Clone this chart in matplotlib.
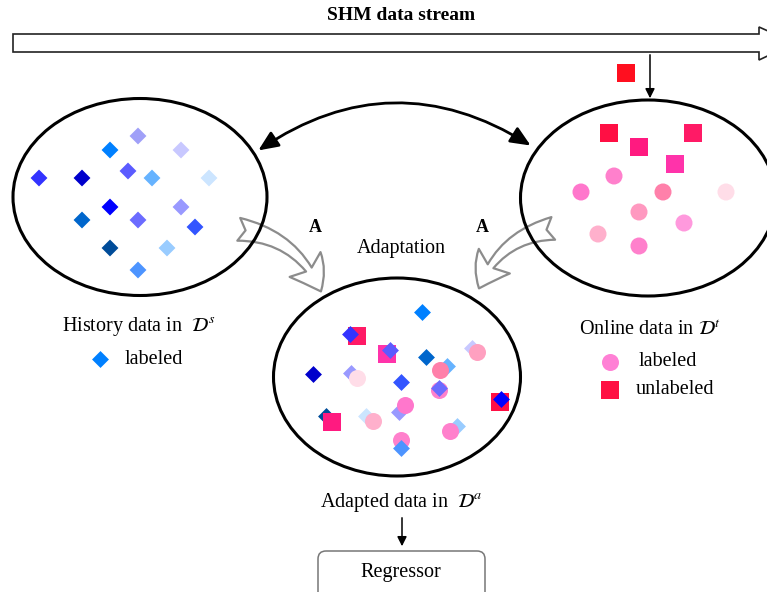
import matplotlib
matplotlib.use('Agg')
import matplotlib.pyplot as plt
from matplotlib.patches import Ellipse, FancyArrowPatch, FancyBboxPatch, Polygon

plt.rcParams['font.family'] = ['Liberation Serif', 'DejaVu Serif']
plt.rcParams['mathtext.fontset'] = 'stix'

# history data (diamonds) in D^s
hist_x = [138, 110, 181, 39, 82, 128, 152, 209, 110, 181, 82, 138, 195, 110, 167, 138]
hist_y = [136, 150, 150, 178, 178, 171, 178, 178, 207, 207, 220, 220, 227, 248, 248, 270]
hist_c = ['#a0a0f8', '#0080ff', '#c8c8ff', '#3333ff', '#0000cc', '#5b5bff', '#66b3ff', '#cce5ff',
          '#0000ff', '#9999ff', '#0066cc', '#6b6bff', '#3355ff', '#004c99', '#99ccff', '#4d94ff']

# online data in D^t
unl_x = [609, 693, 639, 675]
unl_y = [133, 133, 147, 164]
unl_c = ['#ff0f44', '#ff1a66', '#ff1a80', '#ff33aa']
lab_x = [614, 581, 663, 726, 639, 684, 598, 639]
lab_y = [176, 192, 192, 192, 212, 223, 234, 246]
lab_c = ['#ff80cc', '#ff77cc', '#ff80aa', '#ffdde8', '#ff99c0', '#ff99dd', '#ffb0cc', '#ff80cc']

# adapted data in D^a (drawing order)
mid_x = [422, 357, 350, 387, 390, 426, 472, 477, 447, 440, 313, 351, 357, 401,
         439, 439, 399, 405, 500, 501, 326, 332, 366, 373, 457, 450, 401, 401]
mid_y = [312, 336, 334, 354, 350, 357, 348, 352, 366, 370, 374, 373, 378, 382,
         390, 388, 412, 405, 402, 399, 416, 422, 416, 421, 426, 431, 440, 448]
mid_m = ['D', 's', 'D', 's', 'D', 'D', 'D', 'o', 'D', 'o', 'D', 'D', 'o', 'D',
         'o', 'D', 'D', 'o', 's', 'D', 'D', 's', 'D', 'o', 'D', 'o', 'o', 'D']
mid_c = ['#0080ff', '#ff1a66', '#3333ff', '#ff33aa', '#5b5bff', '#0066cc', '#c8c8ff', '#ffa0c0',
         '#66b3ff', '#ff80aa', '#0000cc', '#9999ff', '#ffdde8', '#3355ff', '#ff80cc', '#6b6bff',
         '#9999ff', '#ff77cc', '#ff0f44', '#0000ff', '#004c99', '#ff1a80', '#cce5ff', '#ffb0cc',
         '#99ccff', '#ff80cc', '#ff80cc', '#4d94ff']

sizes = {'D': 74, 's': 150, 'o': 150}

fig = plt.figure(figsize=(7.67, 5.92), dpi=100)
ax = fig.add_axes([0, 0, 1, 1])
ax.set_xlim(0, 767)
ax.set_ylim(592, 0)
ax.axis('off')

# top stream arrow
stream = Polygon([(13, 34), (759, 34), (759, 27), (795, 43), (759, 60), (759, 52), (13, 52)],
                 closed=True, fc='white', ec='#222222', lw=1.2)
ax.add_patch(stream)
ax.text(401, 15, 'SHM data stream', ha='center', va='center', fontsize=14, fontweight='bold')
ax.annotate('', xy=(650, 101), xytext=(650, 52),
            arrowprops=dict(arrowstyle='-|>', color='black', lw=1.1, mutation_scale=14))
ax.scatter([626], [73], marker='s', s=150, c='#ff0f1f', linewidths=0)

# ellipses
for cx, cy, w, h in [(140, 197, 254, 197), (648, 198, 255, 196), (397, 377, 247, 198)]:
    ax.add_patch(Ellipse((cx, cy), w, h, fc='none', ec='black', lw=2.2, zorder=3))

# double headed arrow
ax.add_patch(FancyArrowPatch((256, 152), (533, 147), connectionstyle='arc3,rad=-0.33',
                             arrowstyle='<|-|>,head_length=0.8,head_width=0.35',
                             mutation_scale=15, color='black', lw=2, zorder=4))

# gray adaptation arrows
for p0, p1, rad in [((236, 229), (322, 294), -0.3), ((556, 228), (478, 291), 0.3)]:
    ax.add_patch(FancyArrowPatch(p0, p1, connectionstyle='arc3,rad=%s' % rad,
                                 arrowstyle='fancy,head_length=0.75,head_width=0.95,tail_width=0.55',
                                 mutation_scale=30, fc='white', ec='#8c8c8c', lw=1.6, zorder=2))

ax.text(315, 228, 'A', ha='center', va='center', fontsize=13, fontweight='bold')
ax.text(482, 227, 'A', ha='center', va='center', fontsize=13, fontweight='bold')
ax.text(401, 249, 'Adaptation', ha='center', va='center', fontsize=14.5)

# points
ax.scatter(hist_x, hist_y, marker='D', s=sizes['D'], c=hist_c, linewidths=0, zorder=5)
ax.scatter(unl_x, unl_y, marker='s', s=sizes['s'], c=unl_c, linewidths=0, zorder=5)
ax.scatter(lab_x, lab_y, marker='o', s=sizes['o'], c=lab_c, linewidths=0, zorder=5)
for i in range(len(mid_x)):
    ax.scatter(mid_x[i], mid_y[i], marker=mid_m[i], s=sizes[mid_m[i]], c=mid_c[i],
               linewidths=0, zorder=5 + i * 0.01)

# captions / legends
ax.text(139, 326, r'History data in  $\mathcal{D}^s$', ha='center', va='center', fontsize=14.5)
ax.scatter([100], [359], marker='D', s=sizes['D'], c='#0080ff', linewidths=0)
ax.text(154, 359, 'labeled', ha='center', va='center', fontsize=14.5)

ax.text(650, 330, r'Online data in $\mathcal{D}^t$', ha='center', va='center', fontsize=14.5)
ax.scatter([610], [362], marker='o', s=sizes['o'], c='#ff80d5', linewidths=0)
ax.text(668, 362, 'labeled', ha='center', va='center', fontsize=14.5)
ax.scatter([610], [390], marker='s', s=sizes['s'], c='#ff1044', linewidths=0)
ax.text(675, 390, 'unlabeled', ha='center', va='center', fontsize=14.5)

ax.text(401, 502, r'Adapted data in  $\mathcal{D}^a$', ha='center', va='center', fontsize=14.5)
ax.annotate('', xy=(402, 549), xytext=(402, 515),
            arrowprops=dict(arrowstyle='-|>', color='black', lw=1.1, mutation_scale=14))
ax.add_patch(FancyBboxPatch((318, 551), 167, 55, boxstyle='round,pad=0,rounding_size=8',
                            fc='white', ec='#777777', lw=1.1))
ax.text(401, 573, 'Regressor', ha='center', va='center', fontsize=14.5)

fig.savefig('out.png', dpi=100)
